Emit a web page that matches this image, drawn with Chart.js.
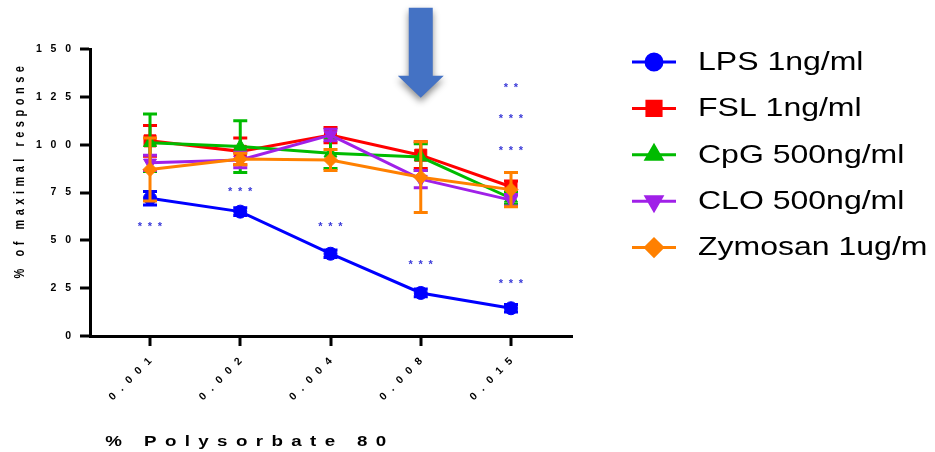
<!DOCTYPE html>
<html>
<head>
<meta charset="utf-8">
<script src="https://cdn.jsdelivr.net/npm/chart.js@4.4.0/dist/chart.umd.min.js"></script>
<style>
  html, body { margin: 0; padding: 0; background: #fff; }
</style>
</head>
<body>
<canvas id="myChart" width="935" height="452"></canvas>
<script>
// categorias del eje x (% polysorbate 80)
const categorias = ['0.001', '0.002', '0.004', '0.008', '0.015']
const marcasY = [0, 25, 50, 75, 100, 125, 150]

const nombres = ['LPS 1ng/ml', 'FSL 1ng/ml', 'CpG 500ng/ml', 'CLO 500ng/ml', 'Zymosan 1ug/m']

/* valores medios de cada serie */
const valoresLPS = [72, 65, 43, 22.5, 14.5]
const valoresFSL = [102, 96.5, 105, 94.5, 78]
const valoresCpG = [101, 99, 95.5, 93.5, 72]
const valoresCLO = [90.5, 92, 105, 82, 71]
const valoresZym = [87, 92.5, 92, 83, 76.5]

/* barras de error (+/-) */
const errorLPS = [3.5, 2, 2, 2, 2]
const errorFSL = [8, 7, 4, 7, 3]
const errorCpG = [15, 13.5, 8, 7, 3]
const errorCLO = [4, 4, 3, 4.5, 3]
const errorZym = [16.5, 3, 5.5, 18.5, 9]

// asteriscos de significancia: [categoria, valor, texto]
const asteriscos = [
    [0, 58.5, '***'],
    [1, 77, '***'],
    [2, 58.5, '***'],
    [3, 38.5, '***'],
    [4, 29, '***'],
    [4, 98.5, '***'],
    [4, 115, '***'],
    [4, 131, '**']
]

const colores = ['#0000ff', '#ff0000', '#00bb00', '#a020e8', '#ff8000']
const estilos = ['circle', 'rect', 'triangle', 'triangle', 'rectRot']
const rotaciones = [0, 0, 0, 180, 0]
const radios = [6.5, 8.5, 7.5, 7.5, 7]

const fuente = 'Liberation Sans, Arial, sans-serif'

function espaciado(txt, sep) {
    return String(txt).split('').join(sep)
}

const valores = [valoresLPS, valoresFSL, valoresCpG, valoresCLO, valoresZym]
const errores = [errorLPS, errorFSL, errorCpG, errorCLO, errorZym]

// error bars, drawn right after each dataset
const barrasError = {
    id: 'barrasError',
    afterDatasetDraw(chart, args) {
        const ctx = chart.ctx
        const i = args.index
        const xs = chart.scales.x
        const ys = chart.scales.y
        const err = errores[i]
        ctx.save()
        ctx.strokeStyle = colores[i]
        ctx.lineWidth = 3
        valores[i].forEach((v, j) => {
            const x = xs.getPixelForValue(j)
            const arriba = ys.getPixelForValue(v + err[j])
            const abajo = ys.getPixelForValue(v - err[j])
            ctx.beginPath()
            ctx.moveTo(x, arriba)
            ctx.lineTo(x, abajo)
            ctx.moveTo(x - 7, arriba)
            ctx.lineTo(x + 7, arriba)
            ctx.moveTo(x - 7, abajo)
            ctx.lineTo(x + 7, abajo)
            ctx.stroke()
        })
        ctx.restore()
    }
}

// textos, leyenda, asteriscos y flecha
const extras = {
    id: 'extras',
    afterDraw(chart) {
        const ctx = chart.ctx
        const xs = chart.scales.x
        const ys = chart.scales.y

        // asteriscos
        ctx.save()
        ctx.fillStyle = '#3a3ad8'
        ctx.font = 'bold 11px ' + fuente
        ctx.textAlign = 'center'
        ctx.textBaseline = 'alphabetic'
        asteriscos.forEach(a => {
            const x = xs.getPixelForValue(a[0])
            const y = ys.getPixelForValue(a[1]) + 6
            const n = a[2].length
            for (let k = 0; k < n; k++) {
                ctx.fillText('*', x + (k - (n - 1) / 2) * 10, y)
            }
        })
        ctx.restore()

        // flecha azul sobre 0.008
        const fx = xs.getPixelForValue(3)
        const punta = ys.getPixelForValue(124.5)
        ctx.save()
        ctx.fillStyle = '#4472c4'
        ctx.shadowColor = 'rgba(0,0,0,0.45)'
        ctx.shadowBlur = 7
        ctx.shadowOffsetY = 4
        ctx.beginPath()
        ctx.moveTo(fx - 12, punta - 90)
        ctx.lineTo(fx + 12, punta - 90)
        ctx.lineTo(fx + 12, punta - 22)
        ctx.lineTo(fx + 23, punta - 22)
        ctx.lineTo(fx, punta)
        ctx.lineTo(fx - 23, punta - 22)
        ctx.lineTo(fx - 12, punta - 22)
        ctx.closePath()
        ctx.fill()
        ctx.restore()

        // titulo eje y
        ctx.save()
        ctx.fillStyle = '#000'
        ctx.font = 'bold 11px ' + fuente
        ctx.letterSpacing = '4.5px'
        ctx.textAlign = 'center'
        ctx.textBaseline = 'middle'
        ctx.translate(20, 172)
        ctx.scale(1.3, 1)
        ctx.rotate(-Math.PI / 2)
        ctx.fillText('% of maximal response', 2, 0)
        ctx.restore()

        // titulo eje x
        ctx.save()
        ctx.fillStyle = '#000'
        ctx.font = 'bold 15px ' + fuente
        ctx.letterSpacing = '6.7px'
        ctx.textAlign = 'center'
        ctx.textBaseline = 'middle'
        ctx.translate(250, 442)
        ctx.scale(1.25, 1)
        ctx.fillText('% Polysorbate 80', 0, 0)
        ctx.restore()

        // leyenda
        ctx.save()
        nombres.forEach((nombre, i) => {
            const y = 62 + i * 46.4
            ctx.strokeStyle = colores[i]
            ctx.fillStyle = colores[i]
            ctx.lineWidth = 3
            ctx.beginPath()
            ctx.moveTo(632, y)
            ctx.lineTo(676, y)
            ctx.stroke()
            Chart.helpers.drawPoint(ctx, {
                pointStyle: estilos[i],
                radius: radios[i] + 1.5,
                rotation: rotaciones[i],
                borderWidth: 1
            }, 654, y)
            ctx.save()
            ctx.fillStyle = '#000'
            ctx.font = '25px ' + fuente
            ctx.textAlign = 'left'
            ctx.textBaseline = 'middle'
            ctx.translate(698, y + 1)
            ctx.scale(1.28, 1)
            ctx.fillText(nombre, 0, 0)
            ctx.restore()
        })
        ctx.restore()
    }
}

const ctx = document.getElementById('myChart')

const conjuntos = nombres.map((nombre, i) => ({
    label: nombre,
    data: valores[i].map((v, j) => ({ x: j, y: v })),
    borderColor: colores[i],
    backgroundColor: colores[i],
    borderWidth: 3,
    pointStyle: estilos[i],
    pointRotation: rotaciones[i],
    pointRadius: radios[i],
    pointBorderWidth: 1,
    pointBorderColor: colores[i],
    pointBackgroundColor: colores[i],
    tension: 0,
    fill: false,
    order: 4 - i
}))

const mychart = new Chart(ctx, {
    type: 'line',
    data: { datasets: conjuntos },
    plugins: [barrasError, extras],
    options: {
        responsive: false,
        animation: false,
        layout: { padding: { top: 49, right: 362, left: 0, bottom: 0 } },
        plugins: {
            legend: { display: false },
            tooltip: { enabled: false }
        },
        scales: {
            x: {
                type: 'linear',
                min: -0.665,
                max: 4.687,
                afterBuildTicks: s => { s.ticks = categorias.map((c, i) => ({ value: i })) },
                afterFit: s => { s.height = 116 },
                border: { display: true, color: '#000', width: 3 },
                grid: { drawOnChartArea: false, drawTicks: true, tickLength: 10, tickWidth: 3, tickColor: '#000', lineWidth: 0 },
                ticks: {
                    autoSkip: false,
                    minRotation: 45,
                    maxRotation: 45,
                    padding: 9,
                    color: '#000',
                    font: { family: fuente, size: 10.5, weight: 'bold' },
                    callback: (v, i) => espaciado(categorias[i], '\u2002\u2009')
                }
            },
            y: {
                min: 0,
                max: 150,
                afterBuildTicks: s => { s.ticks = marcasY.map(v => ({ value: v })) },
                afterFit: s => { s.width = 90 },
                border: { display: true, color: '#000', width: 3 },
                grid: { drawOnChartArea: false, drawTicks: true, tickLength: 10, tickWidth: 3, tickColor: '#000', lineWidth: 0 },
                ticks: {
                    padding: 9,
                    color: '#000',
                    font: { family: fuente, size: 10.5, weight: 'bold' },
                    callback: v => espaciado(v, '\u2002\u2004')
                }
            }
        }
    }
})
</script>
</body>
</html>
